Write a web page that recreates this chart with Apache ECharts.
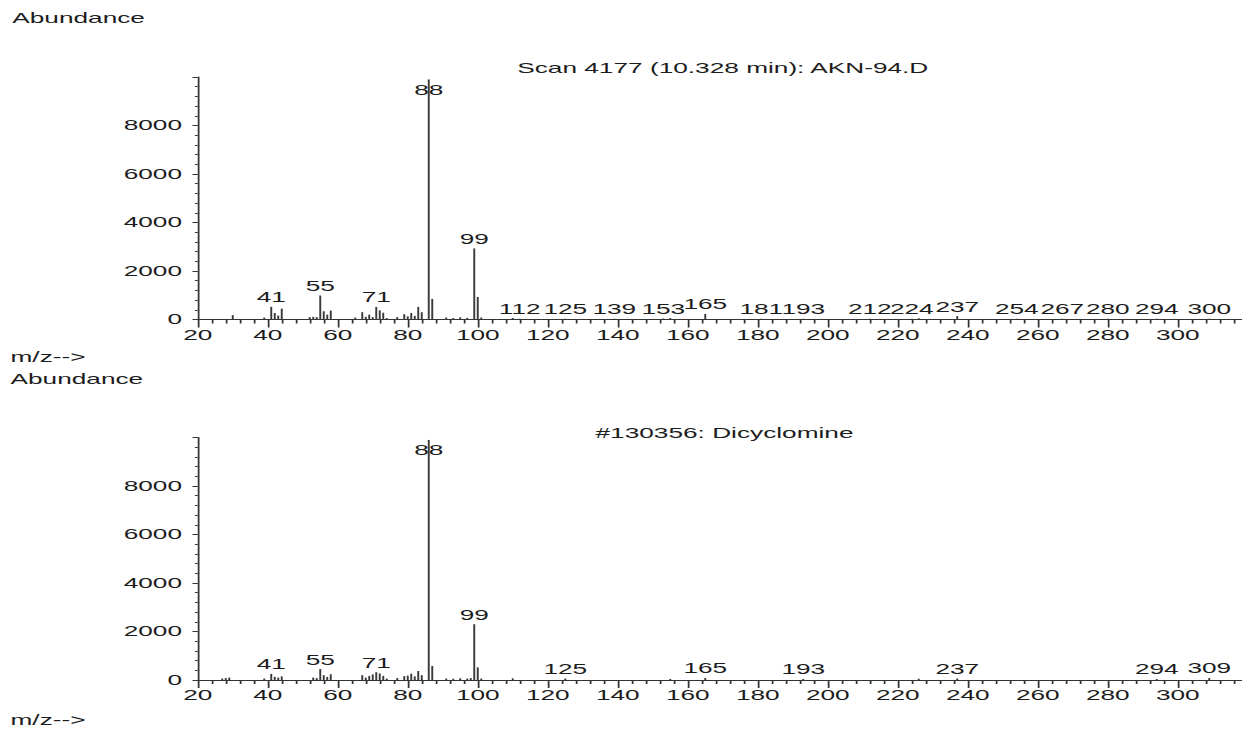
<!DOCTYPE html>
<html>
<head>
<meta charset="utf-8">
<script src="https://cdn.jsdelivr.net/npm/echarts@6/dist/echarts.min.js"></script>
<style>
html,body{margin:0;padding:0;overflow:hidden;background:#fff}
#wrap{width:1242px;height:729px;overflow:hidden;background:#fff}
#c{width:710px;height:729px;transform:scaleX(1.75);transform-origin:0 0}
</style>
</head>
<body>
<div id="wrap"><div id="c"></div></div>
<script>
// ---- Data (m/z vs abundance) ----
var topTitle = 'Scan 4177 (10.328 min): AKN-94.D';
var botTitle = '#130356: Dicyclomine';

var topMz = [30, 39, 41, 42, 43, 44, 52, 53, 54, 55, 56, 57, 58, 65, 67, 68, 69, 70, 71, 72, 73, 74, 77, 79, 80, 81, 82, 83, 84, 86, 87, 91, 93, 95, 97, 99, 100, 101, 110, 112, 125, 139, 153, 155, 165, 181, 193, 212, 224, 226, 237, 254, 267, 280, 294, 309];
var topAb = [180, 80, 520, 270, 160, 450, 100, 110, 100, 990, 340, 200, 370, 80, 300, 110, 200, 100, 520, 380, 280, 60, 100, 220, 130, 270, 150, 520, 300, 9900, 850, 80, 60, 90, 70, 2930, 930, 80, 60, 30, 30, 30, 40, 60, 230, 30, 30, 30, 30, 50, 140, 30, 30, 30, 30, 30];
var topLabelMz = [41, 55, 71, 86, 99, 112, 125, 139, 153, 165, 181, 193, 212, 224, 237, 254, 267, 280, 294, 309];
var topLabelText = ['41', '55', '71', '88', '99', '112', '125', '139', '153', '165', '181', '193', '212', '224', '237', '254', '267', '280', '294', '300'];

var botMz = [27, 28, 29, 39, 41, 42, 43, 44, 53, 54, 55, 56, 57, 58, 67, 68, 69, 70, 71, 72, 73, 74, 77, 79, 80, 81, 82, 83, 84, 86, 87, 91, 93, 95, 97, 98, 99, 100, 101, 110, 125, 155, 165, 193, 226, 237, 294, 309];
var botAb = [60, 80, 100, 60, 250, 130, 100, 150, 100, 80, 450, 200, 130, 240, 200, 100, 170, 230, 320, 270, 170, 60, 80, 160, 180, 260, 150, 370, 200, 9900, 580, 60, 50, 70, 60, 80, 2300, 520, 60, 70, 60, 40, 80, 40, 50, 60, 40, 80];
var botLabelMz = [41, 55, 71, 86, 99, 125, 165, 193, 237, 294, 309];
var botLabelText = ['41', '55', '71', '88', '99', '125', '165', '193', '237', '294', '309'];

var xTickMin = 20, xTickMax = 320, xStep = 20, xLabelMax = 300;
var yMin = 0, yMax = 10000, yStep = 2000, yLabelMax = 8000;

// ---- Styling ----
var FONT = 'Liberation Sans, Arial, Helvetica, sans-serif';
var TXT = '#1c1c1c';
var AX = '#333333';
var BAR = '#3a3a3a';

function buildData(mz, ab, lmz, ltxt) {
  return mz.map(function (m, i) {
    var item = { value: [m, ab[i]] };
    var k = lmz.indexOf(m);
    if (k >= 0) {
      var big = ab[i] > 9000;
      item.label = {
        show: true,
        position: big ? 'insideTop' : 'top',
        distance: big ? 3 : 2,
        formatter: ltxt[k],
        fontSize: 15,
        fontFamily: FONT,
        color: TXT
      };
    }
    return item;
  });
}

function xAxisCfg(gi) {
  return {
    type: 'value', gridIndex: gi, min: xTickMin, max: xTickMax, interval: xStep,
    axisLine: { show: true, onZero: false, lineStyle: { color: AX, width: 1 } },
    axisTick: { show: true, length: 8, lineStyle: { color: AX, width: 1 } },
    minorTick: { show: true, splitNumber: 5, length: 4, lineStyle: { color: AX, width: 1 } },
    splitLine: { show: false }, minorSplitLine: { show: false },
    axisLabel: {
      margin: 8, fontSize: 15, fontFamily: FONT, color: TXT,
      formatter: function (v) { return (v % xStep === 0 && v <= xLabelMax) ? String(v) : ''; }
    }
  };
}
function yAxisCfg(gi) {
  return {
    type: 'value', gridIndex: gi, min: yMin, max: yMax, interval: yStep,
    axisLine: { show: true, onZero: false, lineStyle: { color: AX, width: 1 } },
    axisTick: { show: true, length: 3, lineStyle: { color: AX, width: 1 } },
    minorTick: { show: true, splitNumber: 5, length: 1.6, lineStyle: { color: AX, width: 1 } },
    splitLine: { show: false }, minorSplitLine: { show: false },
    axisLabel: {
      margin: 9, fontSize: 15, fontFamily: FONT, color: TXT,
      formatter: function (v) { return v <= yLabelMax ? String(v) : ''; }
    }
  };
}

function txt(x, y, s, align) {
  return {
    type: 'text', x: x, y: y, silent: true,
    style: { text: s, fontSize: 15, fontFamily: FONT, fill: TXT, align: align || 'left', verticalAlign: 'middle' }
  };
}

var chart = echarts.init(document.getElementById('c'), null, { renderer: 'svg' });
chart.setOption({
  animation: false,
  backgroundColor: '#ffffff',
  grid: [
    { left: 113, top: 77, width: 600, height: 242.5, outerBoundsMode: 'none', containLabel: false },
    { left: 113, top: 437.5, width: 600, height: 242.5, outerBoundsMode: 'none', containLabel: false }
  ],
  xAxis: [xAxisCfg(0), xAxisCfg(1)],
  yAxis: [yAxisCfg(0), yAxisCfg(1)],
  graphic: [
    txt(7, 18, 'Abundance'),
    txt(6, 357, 'm/z-->'),
    txt(6, 379, 'Abundance'),
    txt(6, 720, 'm/z-->'),
    txt(413, 68, topTitle, 'center'),
    txt(414, 433, botTitle, 'center')
  ],
  series: [
    {
      type: 'bar', xAxisIndex: 0, yAxisIndex: 0, barWidth: 1.1, silent: true,
      itemStyle: { color: BAR },
      label: { show: false },
      data: buildData(topMz, topAb, topLabelMz, topLabelText)
    },
    {
      type: 'bar', xAxisIndex: 1, yAxisIndex: 1, barWidth: 1.1, silent: true,
      itemStyle: { color: BAR },
      label: { show: false },
      data: buildData(botMz, botAb, botLabelMz, botLabelText)
    }
  ]
});
</script>
</body>
</html>
